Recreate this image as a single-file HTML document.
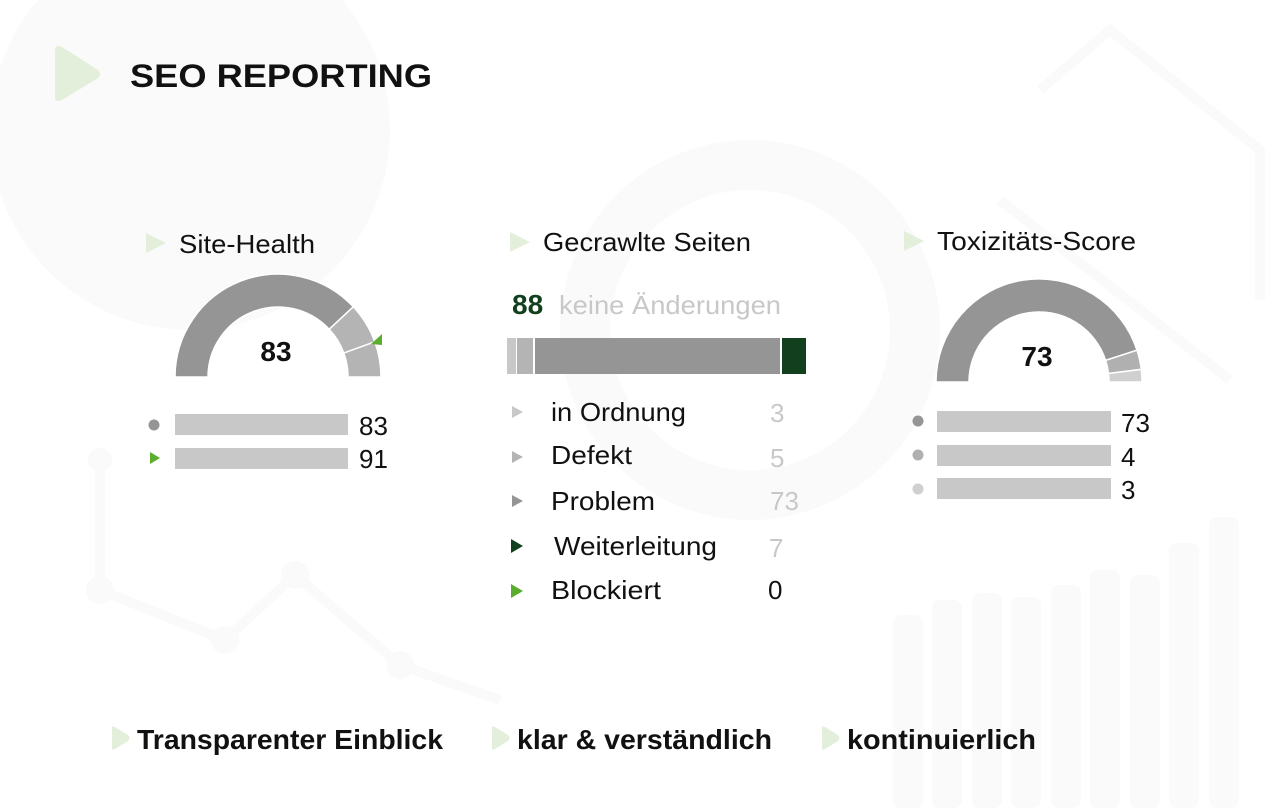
<!DOCTYPE html>
<html><head><meta charset="utf-8"><style>
html,body{margin:0;padding:0;background:#fff;}
svg{display:block;}
text{font-family:"Liberation Sans",sans-serif;}
</style></head><body>
<svg width="1276" height="808" viewBox="0 0 1276 808" xmlns="http://www.w3.org/2000/svg">
<g fill="#fafafa">
<circle cx="190" cy="130" r="200"/>
<path d="M750 140 A190 190 0 1 1 749.9 140 Z M750 190 A140 140 0 1 0 750.1 190 Z" fill-rule="evenodd"/>
<rect x="893" y="615" width="30" height="193" rx="8"/>
<rect x="932" y="600" width="30" height="208" rx="8"/>
<rect x="972" y="593" width="30" height="215" rx="8"/>
<rect x="1011" y="597" width="30" height="211" rx="8"/>
<rect x="1051" y="585" width="30" height="223" rx="8"/>
<rect x="1090" y="570" width="30" height="238" rx="8"/>
<rect x="1130" y="575" width="30" height="233" rx="8"/>
<rect x="1169" y="543" width="30" height="265" rx="8"/>
<rect x="1209" y="517" width="30" height="291" rx="8"/>
<circle cx="100" cy="590" r="14"/><circle cx="225" cy="640" r="14"/><circle cx="295" cy="575" r="14"/><circle cx="400" cy="665" r="14"/><circle cx="100" cy="460" r="12"/>
</g>
<g stroke="#fafafa" stroke-width="10" fill="none">
<polyline points="100,460 100,590 225,640 295,575 400,665 500,700"/>
<path d="M1040 90 L1110 30 L1260 150 L1260 300 M1000 200 L1230 380"/>
</g>
<path d="M55 50 Q55 44 62 47 L98 70 Q102 74 98 78 L62 100 Q55 103 55 97 Z" fill="#e3efdb"/>
<text x="130" y="87" font-size="32" font-weight="bold" fill="#111" textLength="302" lengthAdjust="spacingAndGlyphs">SEO REPORTING</text>

<path d="M146 233 L166 243 L146 253 Z" fill="#e3efdb"/>
<text x="179" y="253" font-size="26" fill="#111" textLength="136" lengthAdjust="spacingAndGlyphs">Site-Health</text>
<g stroke="#fff" stroke-width="1.5">
<path d="M175 377 A103 103 0 0 1 353.3 306.8 L329.2 329.3 A70 70 0 0 0 208 377 Z" fill="#959595"/>
<path d="M353.3 306.8 A103 103 0 0 1 374.8 341.8 L343.8 353.1 A70 70 0 0 0 329.2 329.3 Z" fill="#b4b4b4"/>
<path d="M374.8 341.8 A103 103 0 0 1 381 377 L348 377 A70 70 0 0 0 343.8 353.1 Z" fill="#b4b4b4"/>
</g>
<path d="M371 344 L382 334 L382 345 Z" fill="#5aad2e"/>
<text x="276" y="361" font-size="28" font-weight="bold" fill="#111" text-anchor="middle">83</text>
<circle cx="154" cy="425" r="5.5" fill="#959595"/>
<rect x="175" y="414" width="173" height="21" fill="#c8c8c8"/>
<text x="359" y="435" font-size="26" fill="#111">83</text>
<path d="M150 452 L160 458 L150 464 Z" fill="#5aad2e"/>
<rect x="175" y="448" width="173" height="21" fill="#c8c8c8"/>
<text x="359" y="468" font-size="26" fill="#111">91</text>

<path d="M510 232 L530 242 L510 252 Z" fill="#e3efdb"/>
<text x="543" y="251" font-size="26" fill="#111" textLength="208" lengthAdjust="spacingAndGlyphs">Gecrawlte Seiten</text>
<text x="512" y="314" font-size="28" font-weight="bold" fill="#12401f">88</text>
<text x="559" y="314" font-size="26" fill="#c8c8c8" textLength="222" lengthAdjust="spacingAndGlyphs">keine Änderungen</text>
<rect x="507" y="338" width="9" height="36" fill="#c8c8c8"/>
<rect x="517" y="338" width="16" height="36" fill="#b4b4b4"/>
<rect x="535" y="338" width="245" height="36" fill="#959595"/>
<rect x="782" y="338" width="24" height="36" fill="#12401f"/>
<g font-size="26">
<path d="M512 406 L523 412 L512 418 Z" fill="#c8c8c8"/><text x="551" y="421" fill="#111" textLength="135" lengthAdjust="spacingAndGlyphs">in Ordnung</text><text x="770" y="422" fill="#c8c8c8">3</text>
<path d="M512 451 L523 457 L512 463 Z" fill="#b4b4b4"/><text x="551" y="464" fill="#111" textLength="81" lengthAdjust="spacingAndGlyphs">Defekt</text><text x="770" y="467" fill="#c8c8c8">5</text>
<path d="M512 495 L523 501 L512 507 Z" fill="#959595"/><text x="551" y="510" fill="#111" textLength="104" lengthAdjust="spacingAndGlyphs">Problem</text><text x="770" y="510" fill="#c8c8c8">73</text>
<path d="M511 539 L523 546 L511 553 Z" fill="#12401f"/><text x="554" y="555" fill="#111" textLength="163" lengthAdjust="spacingAndGlyphs">Weiterleitung</text><text x="769" y="557" fill="#c8c8c8">7</text>
<path d="M511 584 L523 591 L511 598 Z" fill="#5aad2e"/><text x="551" y="599" fill="#111" textLength="110" lengthAdjust="spacingAndGlyphs">Blockiert</text><text x="768" y="599" fill="#111">0</text>
</g>

<path d="M904 231 L924 241 L904 251 Z" fill="#e3efdb"/>
<text x="937" y="250" font-size="26" fill="#111" textLength="199" lengthAdjust="spacingAndGlyphs">Toxizitäts-Score</text>
<g stroke="#fff" stroke-width="1.5">
<path d="M936 382 A103 103 0 0 1 1137 350.2 L1105.6 360.4 A70 70 0 0 0 969 382 Z" fill="#959595"/>
<path d="M1137 350.2 A103 103 0 0 1 1141.3 369.4 L1108.5 373.5 A70 70 0 0 0 1105.6 360.4 Z" fill="#b0b0b0"/>
<path d="M1141.3 369.4 A103 103 0 0 1 1142 382 L1109 382 A70 70 0 0 0 1108.5 373.5 Z" fill="#d0d0d0"/>
</g>
<text x="1037" y="366" font-size="28" font-weight="bold" fill="#111" text-anchor="middle">73</text>
<circle cx="918" cy="421" r="5.5" fill="#959595"/>
<rect x="937" y="411" width="174" height="21" fill="#c8c8c8"/>
<text x="1121" y="432" font-size="26" fill="#111">73</text>
<circle cx="918" cy="455" r="5.5" fill="#b0b0b0"/>
<rect x="937" y="445" width="174" height="21" fill="#c8c8c8"/>
<text x="1121" y="466" font-size="26" fill="#111">4</text>
<circle cx="918" cy="489" r="5.5" fill="#d0d0d0"/>
<rect x="937" y="478" width="174" height="21" fill="#c8c8c8"/>
<text x="1121" y="499" font-size="26" fill="#111">3</text>

<g font-size="28" font-weight="bold" fill="#111">
<path d="M112 729 Q111 725 115 727 L128 735 Q131 738 128 741 L115 749 Q111 751 112 747 Z" fill="#e3efdb"/>
<text x="137" y="749" textLength="306" lengthAdjust="spacingAndGlyphs">Transparenter Einblick</text>
<path d="M492 729 Q491 725 495 727 L508 735 Q511 738 508 741 L495 749 Q491 751 492 747 Z" fill="#e3efdb"/>
<text x="517" y="749" textLength="255" lengthAdjust="spacingAndGlyphs">klar &amp; verständlich</text>
<path d="M822 729 Q821 725 825 727 L838 735 Q841 738 838 741 L825 749 Q821 751 822 747 Z" fill="#e3efdb"/>
<text x="847" y="749" textLength="189" lengthAdjust="spacingAndGlyphs">kontinuierlich</text>
</g>
</svg>
</body></html>
